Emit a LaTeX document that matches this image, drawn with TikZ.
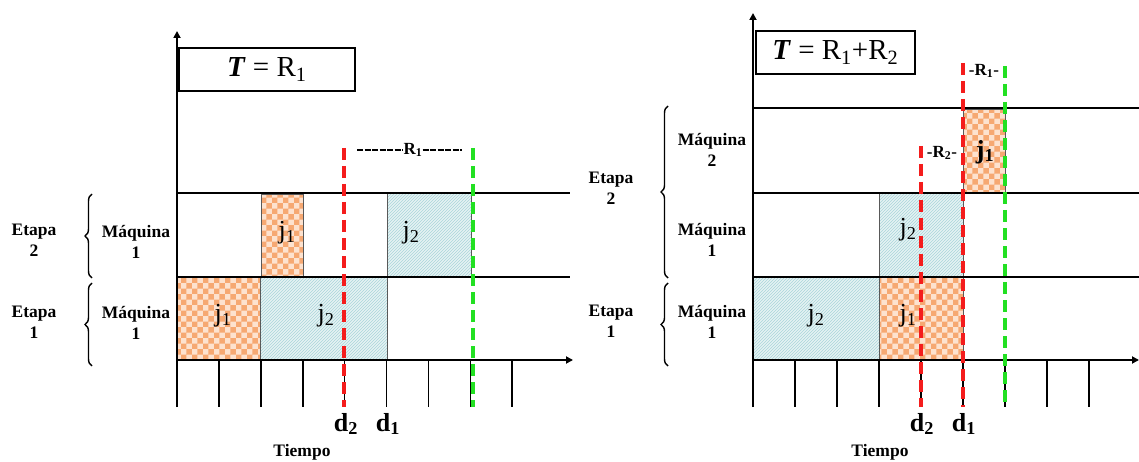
\documentclass[tikz,border=0pt]{standalone}
\usepackage{fontspec}
\setmainfont{Liberation Serif}
\usetikzlibrary{patterns,arrows.meta,decorations.pathreplacing}
\definecolor{orfill}{HTML}{FDE2CF}
\definecolor{orpat}{HTML}{F6A872}
\definecolor{blfill}{HTML}{E6F3F4}
\definecolor{blpat}{HTML}{A9D5DA}
\definecolor{myred}{HTML}{F41C1C}
\definecolor{mygreen}{HTML}{22E022}
\tikzset{
  axis/.style={line width=1.8pt, -{Triangle[length=7pt,width=7pt]}},
  hline/.style={line width=1.6pt},
  tickline/.style={line width=1.6pt},
  jobA/.style={draw=black!65, line width=0.8pt, pattern=checkerboard, pattern color=orpat, preaction={fill=orfill}},
  jobB/.style={draw=black!65, line width=0.8pt, pattern=north east lines, pattern color=blpat, preaction={fill=blfill}},
  reddash/.style={draw=myred, line width=3.5pt, dash pattern=on 12pt off 6pt},
  greendash/.style={draw=mygreen, line width=3.5pt, dash pattern=on 12pt off 6pt},
  lbl/.style={font=\fontsize{17.5}{21}\selectfont\bfseries, align=center, inner sep=0pt},
  jlbl/.style={font=\fontsize{26}{30}\selectfont, inner sep=0pt},
  dlbl/.style={font=\fontsize{26}{30}\selectfont\bfseries, inner sep=0pt},
  rlbl/.style={font=\fontsize{17}{20}\selectfont\bfseries, inner sep=0pt},
  tbox/.style={draw, line width=1.6pt, font=\fontsize{29}{32}\selectfont, inner sep=0pt, anchor=north west},
  brc/.style={decorate, decoration={brace, amplitude=7pt}, line width=1.4pt},
  rdash/.style={line width=2.6pt, dash pattern=on 6pt off 1.5pt},
}
\begin{document}
\begin{tikzpicture}[x=1pt,y=-1pt]
\useasboundingbox (0,0) rectangle (1139,462);

% ================= LEFT CHART =================
\draw[jobA] (177,277) rectangle (260,360);
\draw[jobB] (260,277) rectangle (387,360);
\draw[jobA] (261,194) rectangle (303,277);
\draw[jobB] (387,193) rectangle (471,277);
\coordinate (LA) at (177,193); \coordinate (LAe) at (570,193);
\coordinate (LB) at (177,277); \coordinate (LBe) at (570,277);
\draw[hline] (LA) -- (LAe);
\draw[hline] (LB) -- (LBe);
\coordinate (Lorig) at (177,407); \coordinate (Ltop) at (177,31);
\coordinate (Lt0) at (177,360); \coordinate (Lend) at (573,360);
\draw[axis] (Lorig) -- (Ltop);
\draw[axis] (Lt0) -- (Lend);
\foreach \k in {1,...,8}{
  \draw[tickline] ({177+41.9*\k},360) -- ({177+41.9*\k},407);
}
\node[tbox, minimum width=176pt, minimum height=43pt] (Lbox) at (178,47) {\textbf{\textit{T}} = R\textsubscript{1}};
\coordinate (Lr1) at (344,148); \coordinate (Lr2) at (344,407);
\coordinate (Lg1) at (473,148); \coordinate (Lg2) at (473,407);
\draw[reddash] (Lr1) -- (Lr2);
\draw[greendash] (Lg1) -- (Lg2);
\node[rlbl] (LR1) at (413,150) {R\textsubscript{1}};
\coordinate (LRa) at (357,150); \coordinate (LRb) at (462,150);
\draw[rdash] (LRa) -- (LR1.west);
\draw[rdash] (LR1.east) -- (LRb);
\node[jlbl] (Lj1a) at (223,316) {j\textsubscript{1}};
\node[jlbl] (Lj2a) at (326,316) {j\textsubscript{2}};
\node[jlbl] (Lj1b) at (287,233) {j\textsubscript{1}};
\node[jlbl] (Lj2b) at (411,233) {j\textsubscript{2}};
\node[dlbl] (Ld2) at (346,424) {d\textsubscript{2}};
\node[dlbl] (Ld1) at (388,424) {d\textsubscript{1}};
\node[lbl] (Ltiempo) at (302,452) {Tiempo};
\node[lbl] (LE2) at (34,240) {Etapa\\2};
\node[lbl] (LM2) at (136,242) {Máquina\\1};
\node[lbl] (LE1) at (34,322) {Etapa\\1};
\node[lbl] (LM1) at (136,323) {Máquina\\1};
\coordinate (Lb2a) at (92,278); \coordinate (Lb2b) at (92,194);
\coordinate (Lb1a) at (92,366); \coordinate (Lb1b) at (92,283);
\draw[brc] (Lb2a) -- (Lb2b);
\draw[brc] (Lb1a) -- (Lb1b);

% ================= RIGHT CHART =================
\draw[jobB] (753,277) rectangle (879,360);
\draw[jobA] (879,277) rectangle (963,360);
\draw[jobB] (879,193) rectangle (963,277);
\draw[jobA] (963,109) rectangle (1005,193);
\coordinate (RA) at (753,108); \coordinate (RAe) at (1139,108);
\coordinate (RB) at (753,193); \coordinate (RBe) at (1139,193);
\coordinate (RC) at (753,277); \coordinate (RCe) at (1139,277);
\draw[hline] (RA) -- (RAe);
\draw[hline] (RB) -- (RBe);
\draw[hline] (RC) -- (RCe);
\coordinate (Rorig) at (753,407); \coordinate (Rtop) at (753,13);
\coordinate (Rt0) at (753,360); \coordinate (Rend) at (1139,360);
\draw[axis] (Rorig) -- (Rtop);
\draw[axis] (Rt0) -- (Rend);
\foreach \k in {1,...,8}{
  \draw[tickline] ({753+42*\k},360) -- ({753+42*\k},407);
}
\node[tbox, minimum width=159pt, minimum height=43pt] (Rbox) at (755,30) {\textbf{\textit{T}} = R\textsubscript{1}+R\textsubscript{2}};
\coordinate (Rr1) at (921,146); \coordinate (Rr2) at (921,407);
\coordinate (Rs1) at (963,63); \coordinate (Rs2) at (963,407);
\coordinate (Rg1) at (1005,66); \coordinate (Rg2) at (1005,407);
\draw[reddash] (Rr1) -- (Rr2);
\draw[reddash] (Rs1) -- (Rs2);
\draw[greendash] (Rg1) -- (Rg2);
\node[rlbl] (RR2) at (942,153) {-R\textsubscript{2}-};
\node[rlbl] (RR1) at (984,71) {-R\textsubscript{1}-};
\node[jlbl] (Rj2a) at (816,316) {j\textsubscript{2}};
\node[jlbl] (Rj1a) at (908,316) {j\textsubscript{1}};
\node[jlbl] (Rj2b) at (908,230) {j\textsubscript{2}};
\node[jlbl] (Rj1b) at (985,152) {\textbf{j\textsubscript{1}}};
\node[dlbl] (Rd2) at (922,424) {d\textsubscript{2}};
\node[dlbl] (Rd1) at (964,424) {d\textsubscript{1}};
\node[lbl] (Rtiempo) at (880,452) {Tiempo};
\node[lbl] (RE2) at (611,188) {Etapa\\2};
\node[lbl] (RM2) at (712,150) {Máquina\\2};
\node[lbl] (RM1) at (712,240) {Máquina\\1};
\node[lbl] (RE1) at (611,321) {Etapa\\1};
\node[lbl] (RM1b) at (712,322) {Máquina\\1};
\coordinate (Rb2a) at (668,278); \coordinate (Rb2b) at (668,106);
\coordinate (Rb1a) at (668,366); \coordinate (Rb1b) at (668,283);
\draw[brc] (Rb2a) -- (Rb2b);
\draw[brc] (Rb1a) -- (Rb1b);
\end{tikzpicture}
\end{document}
